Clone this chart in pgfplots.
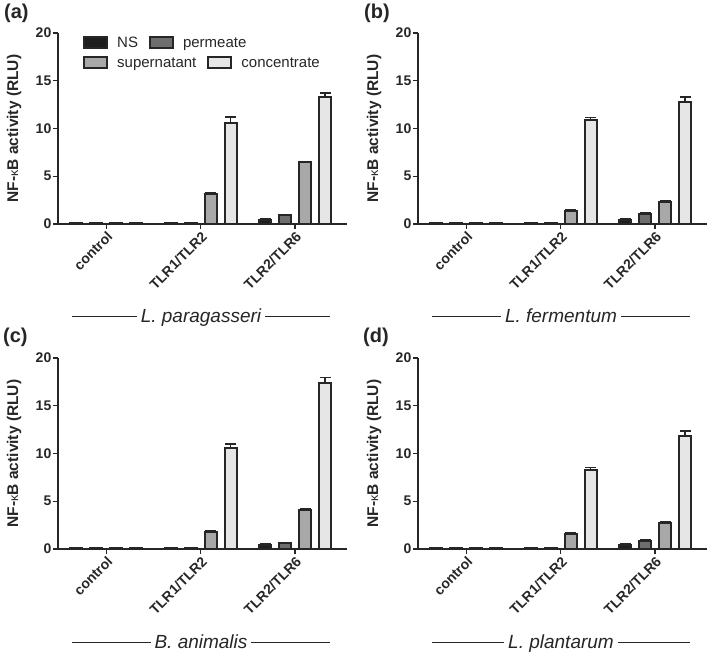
\documentclass[border=0pt]{standalone}
\usepackage{fontspec}
\setmainfont{Liberation Sans}
\usepackage{pgfplots}
\usepackage{pgfplotstable}
\pgfplotsset{compat=1.18}

\definecolor{axcol}{HTML}{262626}
\definecolor{nscol}{HTML}{1E1E1E}
\definecolor{percol}{HTML}{6E6E6E}
\definecolor{supcol}{HTML}{A8A8A8}
\definecolor{concol}{HTML}{E6E6E6}

% L. paragasseri
\pgfplotstableread{
x ns   per  sup   con   ens  eper esup econ
0 0.15 0.10 0.10  0.10  0.01 0.01 0.01 0.01
1 0.06 0.08 3.15  10.60 0.01 0.01 0.10 0.60
2 0.45 0.92 6.45  13.35 0.05 0.08 0.10 0.35
}\tabA
% L. fermentum
\pgfplotstableread{
x ns   per  sup   con   ens  eper esup econ
0 0.15 0.10 0.10  0.10  0.01 0.01 0.01 0.01
1 0.06 0.08 1.35  10.85 0.01 0.01 0.10 0.30
2 0.45 1.05 2.35  12.75 0.05 0.08 0.10 0.55
}\tabB
% B. animalis
\pgfplotstableread{
x ns   per  sup   con   ens  eper esup econ
0 0.15 0.10 0.10  0.12  0.01 0.01 0.01 0.01
1 0.06 0.08 1.75  10.60 0.01 0.01 0.15 0.40
2 0.45 0.60 4.10  17.35 0.05 0.05 0.10 0.60
}\tabC
% L. plantarum
\pgfplotstableread{
x ns   per  sup   con   ens  eper esup econ
0 0.15 0.10 0.10  0.12  0.01 0.01 0.01 0.01
1 0.06 0.08 1.62  8.25  0.01 0.01 0.10 0.30
2 0.45 0.85 2.75  11.80 0.05 0.08 0.15 0.55
}\tabD

\pgfplotsset{
 geom/.style={scale only axis, width=289pt, height=191pt,
   xmin=-0.51, xmax=2.55, ymin=0, ymax=20},
 panel/.style={geom, ybar, bar width=12pt,
   xtick={0,1,2}, xticklabels={control,TLR1/TLR2,TLR2/TLR6},
   ytick={0,5,10,15,20},
   axis x line*=bottom, axis y line*=left,
   axis line style={-, line width=1.3pt, axcol},
   every tick/.style={line width=1.3pt, axcol},
   tick align=outside, major tick length=5pt,
   /pgf/number format/assume math mode=true,
   yticklabel style={font=\bfseries\fontsize{14}{16}\selectfont, text=axcol, inner sep=1.5pt},
   xticklabel style={rotate=45, anchor=north east, font=\bfseries\fontsize{14}{16}\selectfont, text=axcol, inner sep=1pt},
   ylabel={NF-{\mdseries\fontsize{12.5}{12.5}\selectfont κ}B activity (RLU)},
   ylabel style={at={(axis description cs:-0.152,0.5)}, anchor=center, font=\bfseries\fontsize{15.5}{17}\selectfont, text=axcol},
   clip=false,
 },
 legstyle/.style={legend columns=-1,
   legend style={draw=none, fill=none, anchor=west, inner sep=0pt,
     font=\fontsize{15}{17}\selectfont, text=axcol,
     /tikz/every even column/.append style={column sep=9pt}},
   legend image code/.code={\draw[##1,/tikz/.cd,line width=2pt] (0pt,-5pt) rectangle (23pt,5.5pt);}},
 bars/.style={draw=axcol, line width=2pt,
   error bars/y dir=plus, error bars/y explicit,
   error bars/error bar style={line width=1.6pt, axcol},
   error bars/error mark options={rotate=90, line width=1.6pt, mark size=5.5pt, axcol}},
}

\begin{document}
\begin{tikzpicture}
\useasboundingbox (0pt,0pt) rectangle (709pt,653pt);

% (a)
\begin{axis}[panel, at={(58pt,429pt)}, anchor=south west, legstyle,
  legend style={at={(rel axis cs:0.0865,0.948)}}]
\addplot[bars, fill=nscol, bar shift=-30pt] table[x=x, y=ns, y error=ens] {\tabA};
\addlegendentry{\hspace{7pt}NS}
\addplot[bars, fill=percol, bar shift=-10pt] table[x=x, y=per, y error=eper] {\tabA};
\addlegendentry{\hspace{7pt}permeate}
\addplot[bars, fill=supcol, bar shift=10pt, forget plot] table[x=x, y=sup, y error=esup] {\tabA};
\addplot[bars, fill=concol, bar shift=30pt, forget plot] table[x=x, y=con, y error=econ] {\tabA};
\end{axis}
\begin{axis}[geom, hide axis, at={(58pt,429pt)}, anchor=south west, legstyle,
  legend style={at={(rel axis cs:0.0865,0.843)}}]
\addlegendimage{fill=supcol, draw=axcol}
\addlegendentry{\hspace{7pt}supernatant}
\addlegendimage{fill=concol, draw=axcol}
\addlegendentry{\hspace{7pt}concentrate}
\end{axis}

% (b)
\begin{axis}[panel, at={(418pt,429pt)}, anchor=south west]
\addplot[bars, fill=nscol, bar shift=-30pt] table[x=x, y=ns, y error=ens] {\tabB};
\addplot[bars, fill=percol, bar shift=-10pt] table[x=x, y=per, y error=eper] {\tabB};
\addplot[bars, fill=supcol, bar shift=10pt] table[x=x, y=sup, y error=esup] {\tabB};
\addplot[bars, fill=concol, bar shift=30pt] table[x=x, y=con, y error=econ] {\tabB};
\end{axis}

% (c)
\begin{axis}[panel, at={(58pt,104pt)}, anchor=south west]
\addplot[bars, fill=nscol, bar shift=-30pt] table[x=x, y=ns, y error=ens] {\tabC};
\addplot[bars, fill=percol, bar shift=-10pt] table[x=x, y=per, y error=eper] {\tabC};
\addplot[bars, fill=supcol, bar shift=10pt] table[x=x, y=sup, y error=esup] {\tabC};
\addplot[bars, fill=concol, bar shift=30pt] table[x=x, y=con, y error=econ] {\tabC};
\end{axis}

% (d)
\begin{axis}[panel, at={(418pt,104pt)}, anchor=south west]
\addplot[bars, fill=nscol, bar shift=-30pt] table[x=x, y=ns, y error=ens] {\tabD};
\addplot[bars, fill=percol, bar shift=-10pt] table[x=x, y=per, y error=eper] {\tabD};
\addplot[bars, fill=supcol, bar shift=10pt] table[x=x, y=sup, y error=esup] {\tabD};
\addplot[bars, fill=concol, bar shift=30pt] table[x=x, y=con, y error=econ] {\tabD};
\end{axis}

% species labels
\tikzset{spec/.style={fill=white, inner xsep=4pt, inner ysep=0pt, anchor=base, text=axcol,
  font=\itshape\fontsize{19}{21}\selectfont}}
\draw[line width=1pt, axcol] (72pt,336pt) -- (330pt,336pt);
\node[spec] at (201pt,330pt) {L. paragasseri};
\draw[line width=1pt, axcol] (432pt,336pt) -- (690pt,336pt);
\node[spec] at (561pt,330pt) {L. fermentum};
\draw[line width=1pt, axcol] (72pt,11pt) -- (330pt,11pt);
\node[spec] at (201pt,5pt) {B. animalis};
\draw[line width=1pt, axcol] (432pt,11pt) -- (690pt,11pt);
\node[spec] at (561pt,5pt) {L. plantarum};

% panel labels
\tikzset{plab/.style={anchor=base west, inner sep=0pt, text=axcol, font=\bfseries\fontsize{20}{22}\selectfont}}
\node[plab] at (4pt,634pt) {(a)};
\node[plab] at (364pt,634pt) {(b)};
\node[plab] at (3pt,310pt) {(c)};
\node[plab] at (363pt,310pt) {(d)};
\end{tikzpicture}
\end{document}
